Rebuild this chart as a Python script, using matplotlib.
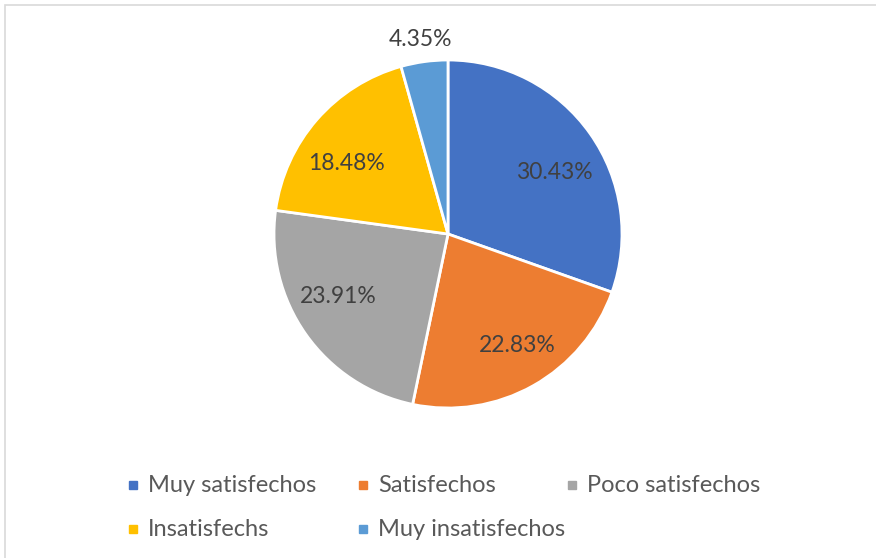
import matplotlib.pyplot as plt
from matplotlib.patches import Rectangle

labels = ['Muy satisfechos', 'Satisfechos', 'Poco satisfechos', 'Insatisfechs', 'Muy insatisfechos']
values = [30.43, 22.83, 23.91, 18.48, 4.35]
colors = ['#4472C4', '#ED7D31', '#A5A5A5', '#FFC000', '#5B9BD5']

W, H = 876, 558
plt.rcParams['font.family'] = ['Lato', 'DejaVu Sans']

fig = plt.figure(figsize=(W / 100, H / 100), dpi=100)

# light frame like the Excel chart area
fig.patches.append(Rectangle((5 / W, -0.1), 1.2, 1 - 5 / H + 0.1, transform=fig.transFigure,
                             fill=False, edgecolor='#D9D9D9', linewidth=1.2))

cx, cy, r = 448, 234, 174
ax = fig.add_axes([(cx - r) / W, (H - cy - r) / H, 2 * r / W, 2 * r / H])
wedges, texts, autotexts = ax.pie(values, colors=colors, startangle=90, counterclock=False,
                                  autopct='%.2f%%', pctdistance=0.75,
                                  wedgeprops=dict(edgecolor='white', linewidth=2),
                                  textprops=dict(color='#404040', fontsize=16.5))
ax.set_xlim(-1, 1)
ax.set_ylim(-1, 1)

# label spots as Excel put them (in pie radii)
label_pos = [(0.61, 0.356), (0.397, -0.638), (-0.632, -0.362), (-0.586, 0.408), (-0.161, 1.115)]
for t, p in zip(autotexts, label_pos):
    t.set_position(p)

# legend, laid out like the original
leg_x = [133, 363, 572, 133, 363]
leg_y = [485, 485, 485, 529, 529]
for lab, col, x, y in zip(labels, colors, leg_x, leg_y):
    fig.patches.append(Rectangle(((x - 4) / W, 1 - (y + 4) / H), 8 / W, 8 / H,
                                 transform=fig.transFigure, color=col))
    fig.text((x + 15) / W, 1 - y / H, lab, ha='left', va='center', fontsize=17, color='#595959')

fig.savefig('out.png', dpi=100)
